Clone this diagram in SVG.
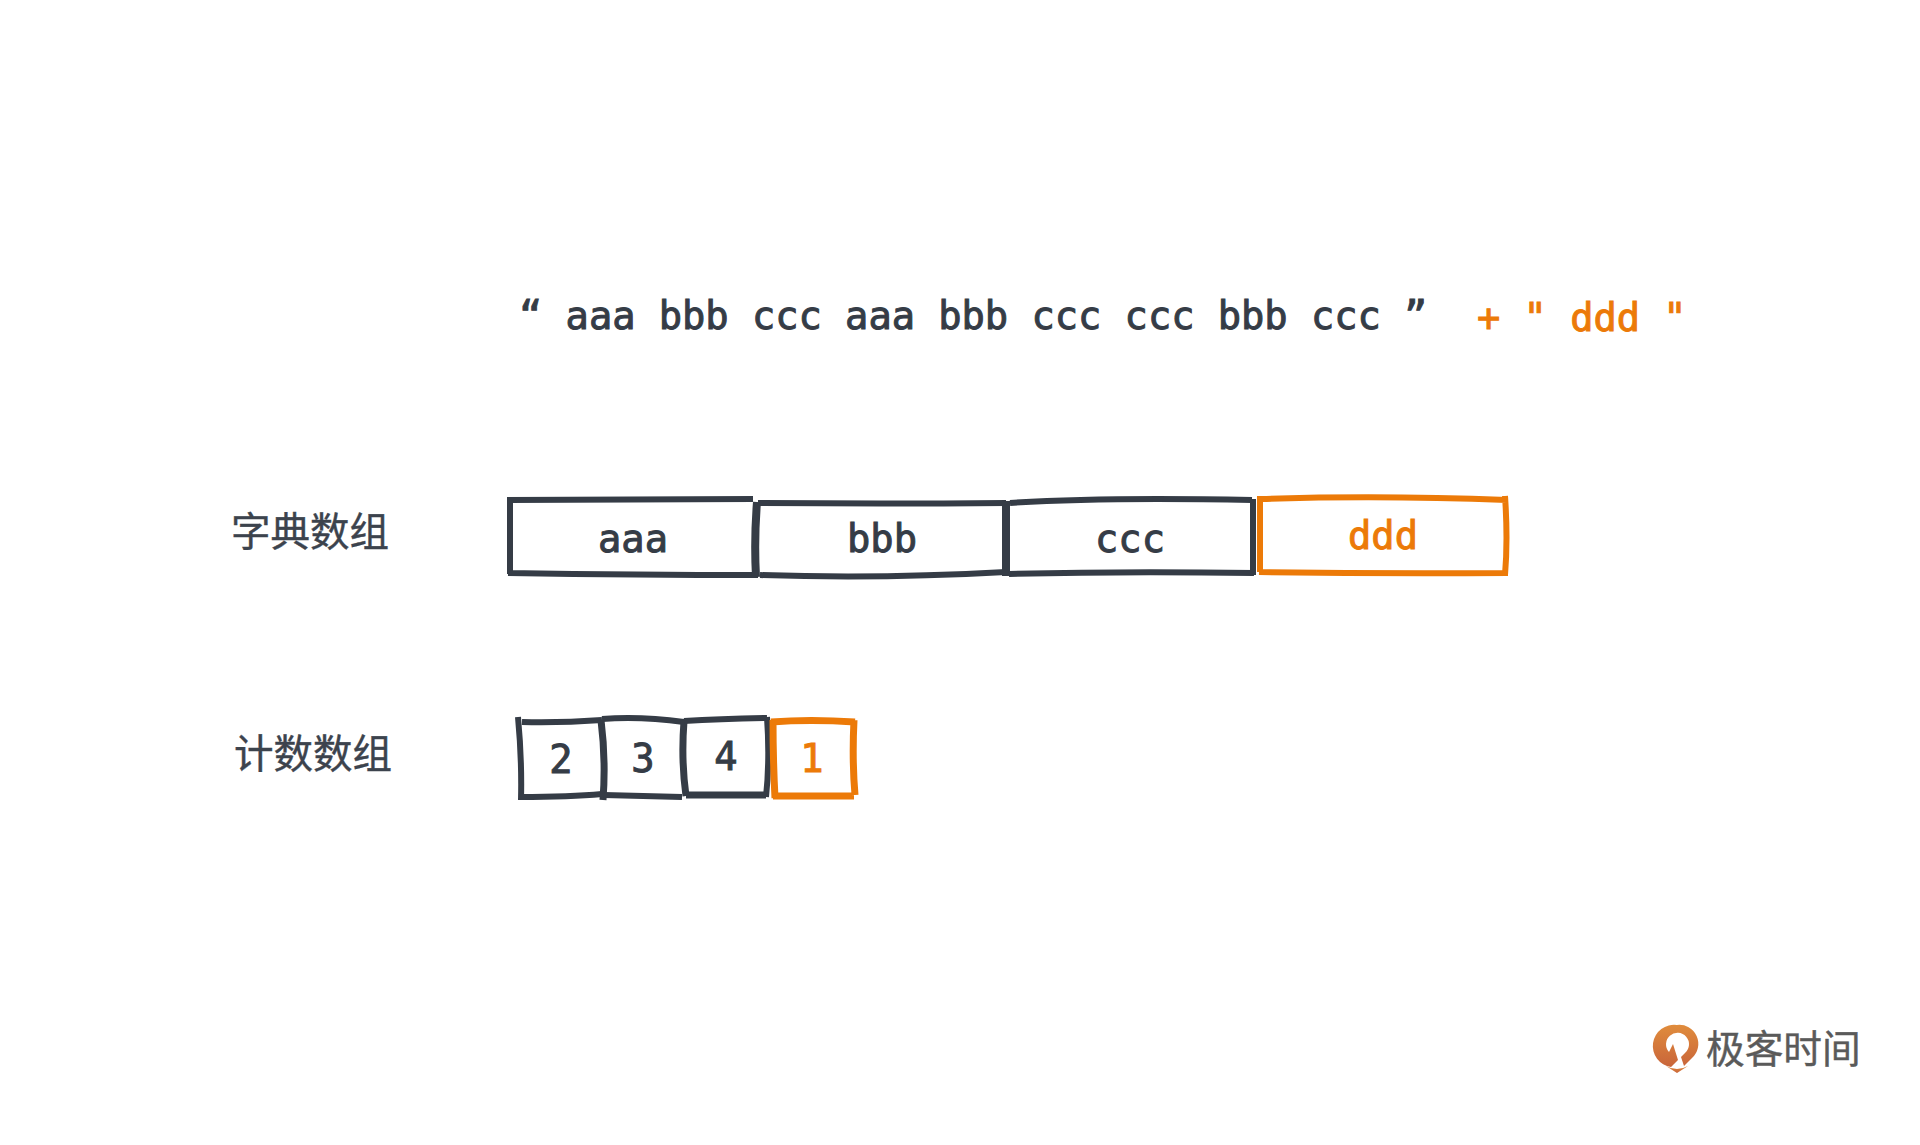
<svg xmlns="http://www.w3.org/2000/svg" width="1920" height="1145" viewBox="0 0 1920 1145">
<defs>
<linearGradient id="lg" x1="0" y1="0" x2="0" y2="1"><stop offset="0" stop-color="#e08c3c"/><stop offset="1" stop-color="#c9653a"/></linearGradient>
</defs>
<style>
.d{fill:none;stroke:#353c46;stroke-width:6;stroke-linecap:butt}
.o{fill:none;stroke:#ec7a08;stroke-width:6;stroke-linecap:butt}
.m{font-family:"DejaVu Sans Mono","Liberation Mono",monospace;font-size:38.7px;stroke-width:1}
.c{text-anchor:middle}
.td{fill:#353c46;stroke:#353c46}
.to{fill:#ec7a08;stroke:#ec7a08}
.z{font-family:"Noto Sans CJK SC",sans-serif;font-size:39.5px;fill:#3c434d;stroke:#3c434d;stroke-width:.4}
</style>
<rect width="1920" height="1145" fill="#fff"/>
<g id="source-string">
<text class="m td" x="519" y="329" xml:space="preserve">“ aaa bbb ccc aaa bbb ccc ccc bbb ccc ”</text>
<text class="m to" x="1477" y="331" xml:space="preserve">+ " ddd "</text>
</g>
<g id="label-dict"><text class="z" x="231" y="546">字典数组</text></g>
<g id="label-count"><text class="z" x="234" y="768">计数数组</text></g>
<g id="dict-aaa">
<path class="d" d="M508 500Q630 499 753 499M510 497V574M508 573Q640 575 758 575"/>
<path class="d" style="stroke-width:8" d="M757 502Q754 540 756 577"/>
<text class="m td c" x="633" y="552">aaa</text>
</g>
<g id="dict-bbb">
<path class="d" d="M758 503Q880 504 1006 503M760 575Q880 579 1006 572"/>
<path class="d" style="stroke-width:8" d="M1006 501V576"/>
<text class="m td c" x="882" y="552">bbb</text>
</g>
<g id="dict-ccc">
<path class="d" d="M1010 503Q1100 497 1252 500M1009 574Q1120 571 1254 573M1253 499V575"/>
<text class="m td c" x="1130" y="552">ccc</text>
</g>
<g id="dict-ddd">
<path class="o" d="M1261 499Q1380 495 1507 500M1259 572Q1380 574 1508 573M1260 496V572M1505 496Q1508 540 1505 575"/>
<text class="m to c" x="1383" y="549">ddd</text>
</g>
<g id="count-2">
<path class="d" d="M518 717Q522 760 521 800M522 722Q560 723 602 720M520 797Q570 797 602 794"/>
<path class="d" style="stroke-width:7" d="M601 720Q606 760 603 800"/>
<text class="m td c" x="561" y="773">2</text>
</g>
<g id="count-3">
<path class="d" d="M602 719Q640 716 684 722M604 795Q640 796 682 797"/>
<path class="d" style="stroke-width:7" d="M684 721Q681 760 686 796"/>
<text class="m td c" x="643" y="772">3</text>
</g>
<g id="count-4">
<path class="d" d="M684 721Q720 719 767 718M767 717Q770 760 766 797"/>
<path class="d" style="stroke-width:7" d="M686 795H766"/>
<text class="m td c" x="726" y="770">4</text>
</g>
<g id="count-1">
<path class="o" style="stroke-width:7" d="M771 722Q810 719 855 722M773 796H854M773 720Q773 760 775 798M854 720Q852 760 855 795"/>
<text class="m to c" x="812" y="772">1</text>
</g>
<g id="logo">
<path fill="url(#lg)" fill-rule="evenodd" d="M1677 1025a19 19 0 0 1 15 33l-8 8-3-9 4-4a11.500 11.500 0 1 0-16-1l4-8 5 16-7 7a19 19 0 0 1 6-42z"/>
<path fill="url(#lg)" d="M1666 1066q11 6 22 0l-11 7z"/>
<text x="1706" y="1063" font-family="'Noto Sans CJK SC',sans-serif" font-size="38.7" fill="#5a5a5a" stroke="#5a5a5a" stroke-width=".4">极客时间</text>
</g>
</svg>
